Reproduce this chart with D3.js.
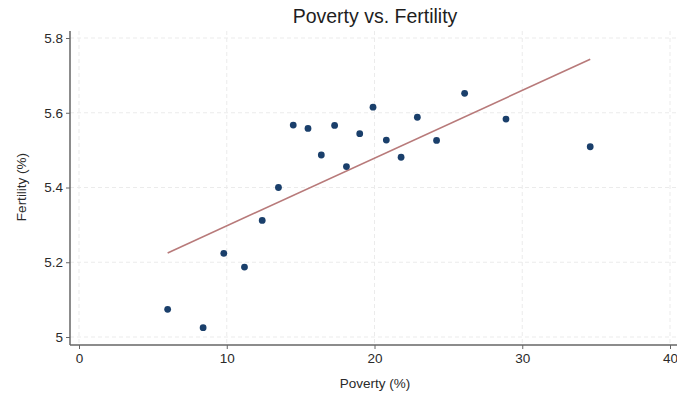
<!DOCTYPE html>
<html>
<head>
<meta charset="utf-8">
<script src="https://cdn.jsdelivr.net/npm/d3@7"></script>
<style>
  body { margin: 0; background: #fff; }
  svg { display: block; font-family: "Liberation Sans", Arial, sans-serif; }
</style>
</head>
<body>
<svg id="chart" width="677" height="393"></svg>
<script>
// poverty (%) and fertility values
const poverty = [6.0, 8.4, 9.8, 11.2, 12.4, 13.5, 14.5, 15.5, 16.4, 17.3, 18.1, 19.0, 19.9, 20.8, 21.8, 22.9, 24.2, 26.1, 28.9, 34.6];
const fertility = [5.074, 5.025, 5.224, 5.187, 5.312, 5.400, 5.567, 5.558, 5.487, 5.566, 5.456, 5.544, 5.615, 5.527, 5.481, 5.588, 5.526, 5.652, 5.583, 5.509];
// fitted line end points
const fitX = [6.0, 34.6];
const fitY = [5.225, 5.743];
const xTicks = [0, 10, 20, 30, 40];
const yTicks = [5, 5.2, 5.4, 5.6, 5.8];

const svg = d3.select("#chart");
const width = 677, height = 393;
const axisLeft = 70, axisBottom = 345, plotTop = 31;

let x = d3.scaleLinear().domain([0, 40]).range([79, 670]);
let y = d3.scaleLinear().domain([5, 5.8]).range([337, 38]);

// grid lines
svg.append("g")
    .selectAll("line")
    .data(yTicks)
    .join("line")
    .attr("x1", axisLeft)
    .attr("x2", width)
    .attr("y1", d => y(d))
    .attr("y2", d => y(d))
    .attr("stroke", "#ebebeb")
    .attr("stroke-dasharray", "4,3");

svg.append("g")
    .selectAll("line")
    .data(xTicks)
    .join("line")
    .attr("x1", d => x(d))
    .attr("x2", d => x(d))
    .attr("y1", plotTop)
    .attr("y2", axisBottom)
    .attr("stroke", "#ebebeb")
    .attr("stroke-dasharray", "4,3");

// axes
let gx = svg.append("g")
    .attr("transform", `translate(0,${axisBottom})`)
    .call(d3.axisBottom(x).tickValues(xTicks).tickSize(4).tickPadding(4).tickFormat(d3.format("d")));
let gy = svg.append("g")
    .attr("transform", `translate(${axisLeft},0)`)
    .call(d3.axisLeft(y).tickValues(yTicks).tickSize(4).tickPadding(3).tickFormat(d => d === 5 ? "5" : d3.format(".1f")(d)));

[gx, gy].forEach(g => {
    g.select(".domain").remove();
    g.selectAll(".tick line").attr("stroke", "#666");
    g.selectAll(".tick text").attr("fill", "#2a2a2a").style("font-size", "13.5px").style("font-family", "Liberation Sans, Arial, sans-serif");
});

svg.append("line")
    .attr("x1", axisLeft).attr("x2", width)
    .attr("y1", axisBottom).attr("y2", axisBottom)
    .attr("stroke", "#666").attr("stroke-width", 1.5);
svg.append("line")
    .attr("x1", axisLeft).attr("x2", axisLeft)
    .attr("y1", plotTop).attr("y2", axisBottom)
    .attr("stroke", "#666").attr("stroke-width", 1.5);

// fit line
svg.append("path")
    .datum(fitX.map((d, i) => [d, fitY[i]]))
    .attr("fill", "none")
    .attr("stroke", "#b87a7a")
    .attr("stroke-width", 1.6)
    .attr("d", d3.line().x(d => x(d[0])).y(d => y(d[1])));

// points
svg.append("g")
    .selectAll("circle")
    .data(poverty.map((d, i) => ({p: d, f: fertility[i]})))
    .join("circle")
    .attr("cx", d => x(d.p))
    .attr("cy", d => y(d.f))
    .attr("r", 3.4)
    .attr("fill", "#1a3f6b");

// titles
svg.append("text")
    .attr("x", 375).attr("y", 23)
    .attr("text-anchor", "middle")
    .style("font-size", "19.5px")
    .attr("fill", "#1e1e1e")
    .text("Poverty vs. Fertility");

svg.append("text")
    .attr("x", 375).attr("y", 388)
    .attr("text-anchor", "middle")
    .style("font-size", "13.5px")
    .attr("fill", "#2a2a2a")
    .text("Poverty (%)");

svg.append("text")
    .attr("transform", "translate(26,187) rotate(-90)")
    .attr("text-anchor", "middle")
    .style("font-size", "13.5px")
    .attr("fill", "#2a2a2a")
    .text("Fertility (%)");
</script>
</body>
</html>
